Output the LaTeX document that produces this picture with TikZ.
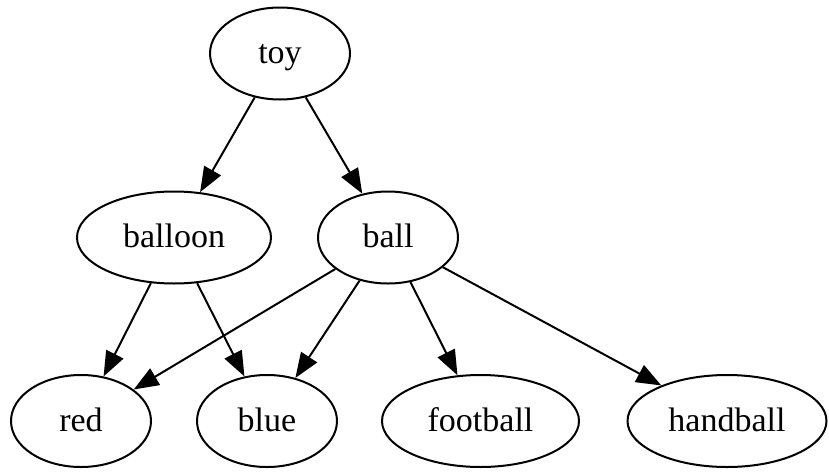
\documentclass[tikz,border=0pt]{standalone}
\usepackage{fontspec}
\setmainfont{Liberation Serif}
\usetikzlibrary{shapes.geometric,arrows.meta}
\begin{document}
\begin{tikzpicture}[x=1pt,y=-1pt,
  gnode/.style={ellipse,draw,line width=2pt,inner sep=0pt,minimum height=92pt,
    text height=24pt,text depth=4pt,
    font=\fontsize{34}{40}\selectfont},
  gedge/.style={line width=2pt,-{Triangle[length=25pt,width=19pt]}}]
\useasboundingbox (0,0) rectangle (829,474);
\node[gnode,minimum width=140pt] (toy) at (280,53.5) {toy};
\node[gnode,minimum width=194pt] (balloon) at (174,237.5) {balloon};
\node[gnode,minimum width=140pt] (ball) at (388,237.5) {ball};
\node[gnode,minimum width=140pt] (red) at (81,421) {red};
\node[gnode,minimum width=140pt] (blue) at (267,421) {blue};
\node[gnode,minimum width=197pt] (football) at (480.5,421) {football};
\node[gnode,minimum width=199pt] (handball) at (727,421) {handball};
\draw[gedge] (toy) -- (balloon);
\draw[gedge] (toy) -- (ball);
\draw[gedge] (balloon) -- (red);
\draw[gedge] (balloon) -- (blue);
\draw[gedge] (ball) -- (red);
\draw[gedge] (ball) -- (blue);
\draw[gedge] (ball) -- (football);
\draw[gedge] (ball) -- (handball);
\end{tikzpicture}
\end{document}
